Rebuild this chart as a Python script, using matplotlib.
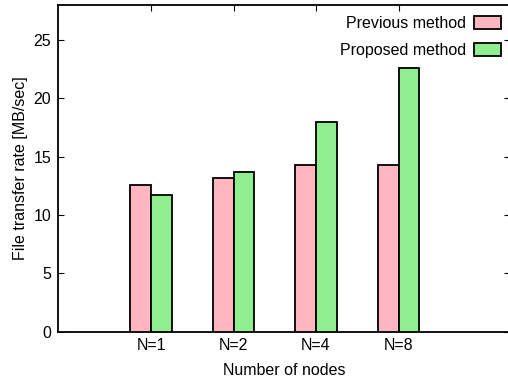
import numpy as np
import matplotlib.pyplot as plt

plt.rcParams['font.family'] = ['Liberation Sans', 'DejaVu Sans']

nodes = ['N=1', 'N=2', 'N=4', 'N=8']
previous = [12.6, 13.2, 14.3, 14.3]
proposed = [11.7, 13.65, 17.95, 22.6]

x = np.arange(len(nodes))
w = 0.25

fig = plt.figure(figsize=(5.08, 3.81), dpi=100)
# right border sits just outside the image, like in the original
ax = fig.add_axes([58 / 508, 1 - 331.5 / 381, 452 / 508, 326.5 / 381])

ax.bar(x - w / 2, previous, w, color='#ffb6c1', edgecolor='black', linewidth=1.3,
       label='Previous method', zorder=3)
ax.bar(x + w / 2, proposed, w, color='#90ee90', edgecolor='black', linewidth=1.3,
       label='Proposed method', zorder=3)

ax.set_xlim(-1.127, 4.35)
ax.set_ylim(0, 28)
ax.set_xticks(x)
ax.set_xticklabels(nodes)
ax.set_yticks([0, 5, 10, 15, 20, 25])
ax.tick_params(direction='in', top=True, right=True, length=4, width=0.8,
               labelsize=11.5, pad=5)
for s in ax.spines.values():
    s.set_linewidth(1.3)

ax.set_xlabel('Number of nodes', fontsize=11.5, labelpad=7)
ax.set_ylabel('File transfer rate [MB/sec]', fontsize=11.5, labelpad=4)

ax.legend(loc='upper right', frameon=False, markerfirst=False, fontsize=11.5,
          handlelength=1.7, handleheight=0.85, labelspacing=0.75,
          handletextpad=0.5, borderaxespad=0.0, bbox_to_anchor=(0.994, 0.985))

fig.savefig('out.png', dpi=100)
